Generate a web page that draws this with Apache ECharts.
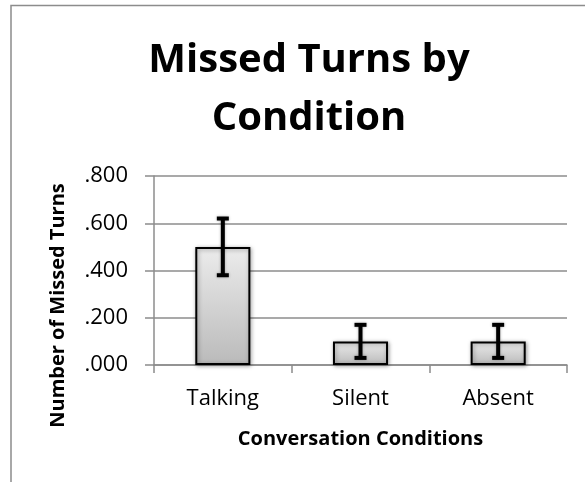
<!DOCTYPE html>
<html>
<head>
<meta charset="utf-8">
<script src="https://cdn.jsdelivr.net/npm/echarts@6/dist/echarts.min.js"></script>
<style>
html,body{margin:0;padding:0;background:#fff;}
#c{width:585px;height:482px;}
</style>
</head>
<body>
<div id="c"></div>
<script>
var categories = ['Talking', 'Silent', 'Absent'];
var means = [0.50, 0.10, 0.10];
var errors = [0.12, 0.07, 0.07];
var yTicks = [0, 0.2, 0.4, 0.6, 0.8];

var FONT = '"Open Sans", "Liberation Sans", sans-serif';
var chart = echarts.init(document.getElementById('c'), null, {renderer: 'canvas'});

var errData = categories.map(function (c, i) {
  return [i, means[i] - errors[i], means[i] + errors[i]];
});

chart.setOption({
  animation: false,
  backgroundColor: '#fff',
  title: {
    text: 'Missed Turns by\nCondition',
    left: 304,
    top: 27,
    textAlign: 'center',
    textStyle: {fontFamily: FONT, fontWeight: 'bold', fontSize: 40, lineHeight: 58, color: '#000'}
  },
  graphic: [{
    type: 'rect',
    shape: {x: 11, y: 5.5, width: 600, height: 500},
    style: {fill: 'none', stroke: '#8c8c8c', lineWidth: 1.5},
    silent: true
  }],
  grid: {left: 154, right: 18, top: 176, bottom: 117},
  xAxis: {
    type: 'category',
    data: categories,
    name: 'Conversation Conditions',
    nameLocation: 'middle',
    nameGap: 64,
    nameTextStyle: {fontFamily: FONT, fontWeight: 'bold', fontSize: 20, color: '#000'},
    axisLine: {lineStyle: {color: '#8c8c8c', width: 1.5}},
    axisTick: {show: true, length: 8, alignWithLabel: false, lineStyle: {color: '#8c8c8c', width: 1.5}},
    axisLabel: {fontFamily: FONT, fontSize: 22, color: '#000', margin: 23}
  },
  yAxis: {
    type: 'value',
    min: yTicks[0],
    max: yTicks[yTicks.length - 1],
    interval: yTicks[1] - yTicks[0],
    name: 'Number of Missed Turns',
    nameLocation: 'middle',
    nameGap: 86,
    nameTextStyle: {fontFamily: FONT, fontWeight: 'bold', fontSize: 20, color: '#000', padding: [0, 70, 0, 0]},
    axisLine: {show: true, lineStyle: {color: '#8c8c8c', width: 1.5}},
    axisTick: {show: true, length: 9, lineStyle: {color: '#8c8c8c', width: 1.5}},
    splitLine: {show: true, lineStyle: {color: '#8c8c8c', width: 1.5}},
    axisLabel: {
      fontFamily: FONT, fontSize: 22, color: '#000', margin: 26,
      formatter: function (v) { return v.toFixed(3).replace(/^0/, ''); }
    }
  },
  series: [{
    type: 'bar',
    data: means,
    barWidth: '40%',
    itemStyle: {
      color: new echarts.graphic.LinearGradient(0, 0, 0, 1, [
        {offset: 0, color: '#ececec'},
        {offset: 1, color: '#bababa'}
      ]),
      borderColor: '#000',
      borderWidth: 2,
      shadowColor: 'rgba(0,0,0,0.35)',
      shadowBlur: 4,
      shadowOffsetX: 1,
      shadowOffsetY: 1
    }
  }, {
    type: 'custom',
    data: errData,
    z: 10,
    renderItem: function (params, api) {
      var lo = api.coord([api.value(0), api.value(1)]);
      var hi = api.coord([api.value(0), api.value(2)]);
      var hw = 6;
      var st = {stroke: '#000', lineWidth: 4, shadowColor: 'rgba(0,0,0,0.3)', shadowBlur: 3};
      return {
        type: 'group',
        children: [
          {type: 'line', shape: {x1: hi[0], y1: hi[1], x2: lo[0], y2: lo[1]}, style: st},
          {type: 'line', shape: {x1: hi[0] - hw, y1: hi[1], x2: hi[0] + hw, y2: hi[1]}, style: st},
          {type: 'line', shape: {x1: lo[0] - hw, y1: lo[1], x2: lo[0] + hw, y2: lo[1]}, style: st}
        ]
      };
    }
  }]
});
</script>
</body>
</html>
